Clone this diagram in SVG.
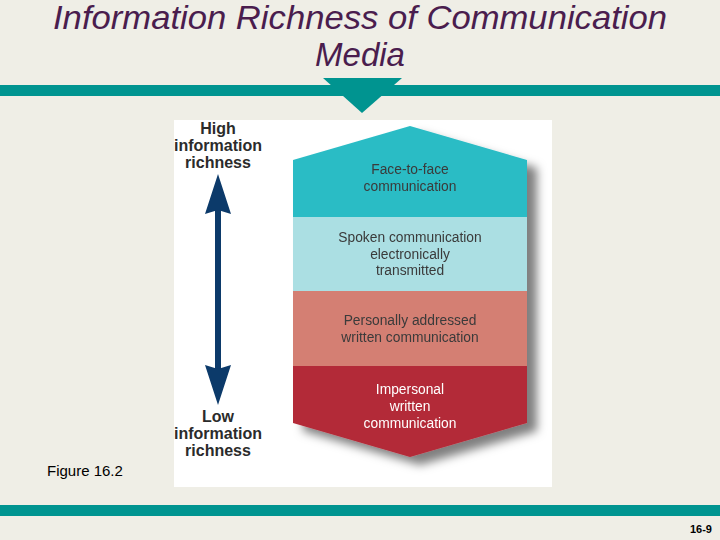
<svg xmlns="http://www.w3.org/2000/svg" width="720" height="540" viewBox="0 0 720 540">
<style>
.title{font-family:"Liberation Sans",Arial,sans-serif;font-style:italic;font-size:33px;fill:#4a1d4e;text-anchor:middle}
.side{font-family:"Liberation Sans",Arial,sans-serif;font-weight:bold;font-size:16px;fill:#2b2b2b;text-anchor:middle}
.lay{font-family:"Liberation Sans",Arial,sans-serif;font-size:13.8px;fill:#3a3a3a;text-anchor:middle}
.layw{font-family:"Liberation Sans",Arial,sans-serif;font-size:13.8px;fill:#ffffff;text-anchor:middle}
.bar{fill:#009490}
</style>
<defs>
<filter id="sh" x="-20%" y="-20%" width="150%" height="150%">
<feDropShadow dx="10" dy="8" stdDeviation="5" flood-color="#000" flood-opacity="0.5"/>
</filter>
</defs>
<rect width="720" height="540" fill="#efeee6"/>
<g id="title">
<text class="title" x="360" y="29" textLength="614" lengthAdjust="spacingAndGlyphs">Information Richness of Communication</text>
<text class="title" x="360" y="66">Media</text>
</g>
<g id="topbar">
<rect class="bar" x="0" y="85" width="720" height="11"/>
<polygon class="bar" points="323,78 402,78 362,113"/>
</g>
<rect id="panel" x="174" y="120" width="378" height="367" fill="#ffffff"/>
<g id="stack" filter="url(#sh)">
<g id="face">
<polygon points="293,217 293,160 410,126 527,160 527,217" fill="#2bbcc5"/>
<text class="lay" x="410" y="174">Face-to-face</text>
<text class="lay" x="410" y="191">communication</text>
</g>
<g id="spoken">
<rect x="293" y="217" width="234" height="74" fill="#abdfe3"/>
<text class="lay" x="410" y="242">Spoken communication</text>
<text class="lay" x="410" y="259">electronically</text>
<text class="lay" x="410" y="275">transmitted</text>
</g>
<g id="personal">
<rect x="293" y="291" width="234" height="75" fill="#d47f73"/>
<text class="lay" x="410" y="325">Personally addressed</text>
<text class="lay" x="410" y="342">written communication</text>
</g>
<g id="impersonal">
<polygon points="293,366 527,366 527,423 410,457 293,423" fill="#b32a37"/>
<text class="layw" x="410" y="394">Impersonal</text>
<text class="layw" x="410" y="411">written</text>
<text class="layw" x="410" y="428">communication</text>
</g>
</g>
<g id="high">
<text class="side" x="218" y="134">High</text>
<text class="side" x="218" y="151">information</text>
<text class="side" x="218" y="168">richness</text>
</g>
<g id="low">
<text class="side" x="218" y="422">Low</text>
<text class="side" x="218" y="439">information</text>
<text class="side" x="218" y="456">richness</text>
</g>
<g id="connectors">
<line x1="218" y1="205" x2="218" y2="375" stroke="#0c3a6a" stroke-width="6"/>
<polygon points="218,174 231,214 218,210 205,214" fill="#0c3a6a"/>
<polygon points="218,405 231,365 218,369 205,365" fill="#0c3a6a"/>
</g>
<text id="fig" x="47" y="476" font-family="Liberation Sans,Arial,sans-serif" font-size="15" fill="#000">Figure 16.2</text>
<rect id="bottombar" class="bar" x="0" y="505" width="720" height="11"/>
<text id="pagenum" x="712" y="533" text-anchor="end" font-family="Liberation Sans,Arial,sans-serif" font-weight="bold" font-size="11" fill="#000">16-9</text>
</svg>
